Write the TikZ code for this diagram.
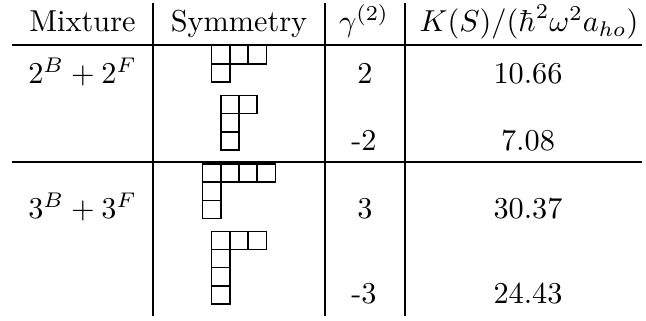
\documentclass[tikz,border=0pt]{standalone}
\begin{document}
\begin{tikzpicture}[x=0.33pt,y=-0.33pt,
  tablerule/.style={line width=0.4pt},
  cell/.style={anchor=base,inner sep=0pt},
  ybox/.style={line width=0.5pt}]
\useasboundingbox (0,0) rectangle (646,320);
% rules
\coordinate (hl1) at (12,45);  \coordinate (hr1) at (642,45);
\coordinate (hl2) at (12,162); \coordinate (hr2) at (642,162);
\coordinate (v1t) at (153,3);  \coordinate (v1b) at (153,316);
\coordinate (v2t) at (325,3);  \coordinate (v2b) at (325,316);
\coordinate (v3t) at (405,3);  \coordinate (v3b) at (405,316);
\draw[tablerule] (hl1) -- (hr1);
\draw[tablerule] (hl2) -- (hr2);
\draw[tablerule] (v1t) -- (v1b);
\draw[tablerule] (v2t) -- (v2b);
\draw[tablerule] (v3t) -- (v3b);
% header
\node[cell] (hmix) at (82.5,31.7) {Mixture};
\node[cell] (hsym) at (239,31.7) {Symmetry};
\node[cell] (hgam) at (364,31.7) {$\gamma^{(2)}$};
\node[cell] (hk) at (529,31.7) {$K(S)/(\hbar^2\omega^2a_{ho})$};
% row 1
\node[cell] (m1) at (82.5,83.3) {$2^B+2^F$};
\node[cell] (g1) at (365,83.3) {2};
\node[cell] (k1) at (528,83.3) {10.66};
% row 2
\node[cell] (g2) at (364,150) {-2};
\node[cell] (k2) at (528,150) {7.08};
% row 3
\node[cell] (m3) at (82.5,218.6) {$3^B+3^F$};
\node[cell] (g3) at (365,218.6) {3};
\node[cell] (k3) at (528,218.6) {30.37};
% row 4
\node[cell] (g4) at (364,303.3) {-3};
\node[cell] (k4) at (528,303.3) {24.43};
% Young diagrams (box = 18.2 px)
\def\bs{18.2}
% [3,1]
\foreach \c/\r in {0/0,1/0,2/0,0/1}
  \draw[ybox] (211.7+\c*\bs,45.6+\r*\bs) rectangle ++(\bs,\bs);
% [2,1,1]
\foreach \c/\r in {0/0,1/0,0/1,0/2}
  \draw[ybox] (220.8+\c*\bs,95.5+\r*\bs) rectangle ++(\bs,\bs);
% [4,1,1]
\foreach \c/\r in {0/0,1/0,2/0,3/0,0/1,0/2}
  \draw[ybox] (202.6+\c*\bs,164+\r*\bs) rectangle ++(\bs,\bs);
% [3,1,1,1]
\foreach \c/\r in {0/0,1/0,2/0,0/1,0/2,0/3}
  \draw[ybox] (211.7+\c*\bs,231.3+\r*\bs) rectangle ++(\bs,\bs);
\end{tikzpicture}
\end{document}
